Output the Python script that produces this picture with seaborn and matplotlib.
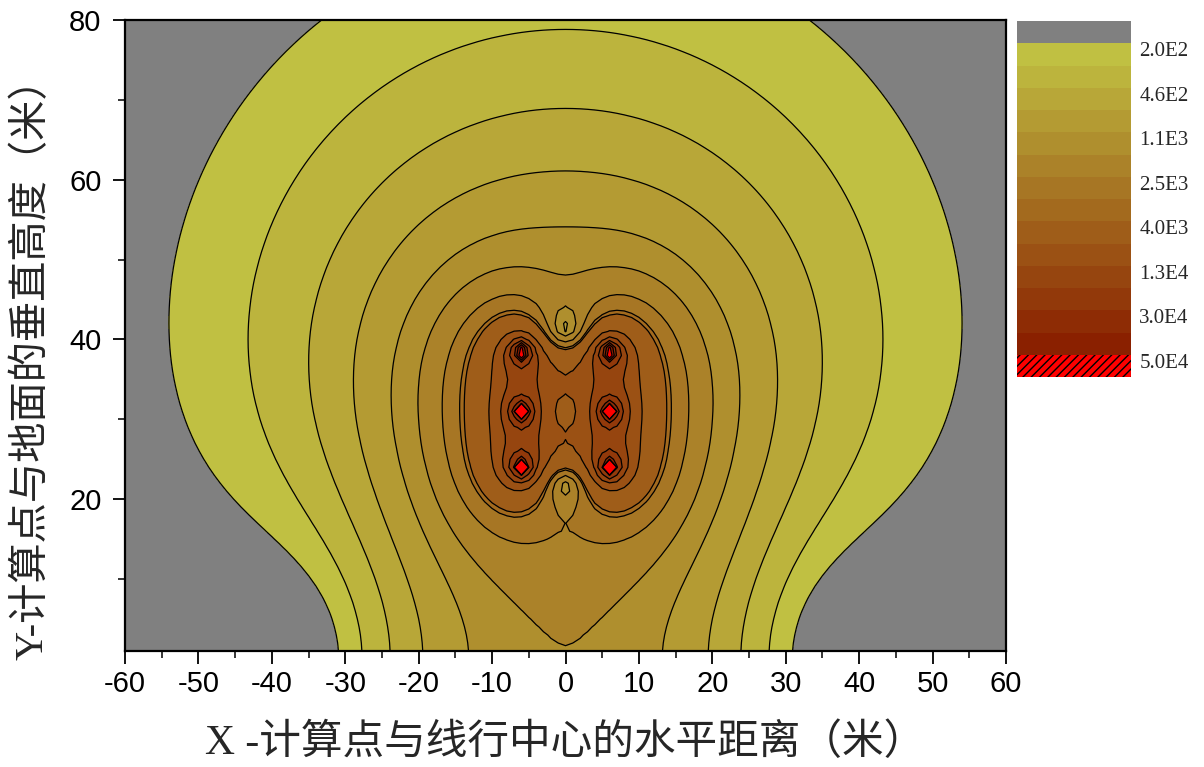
import numpy as np
import matplotlib
matplotlib.use("Agg")
import matplotlib.pyplot as plt
from matplotlib.colors import ListedColormap, BoundaryNorm
from matplotlib.patches import Rectangle
import seaborn as sns

# ---------------- data ----------------
# conductor positions (m) and phase angles (deg) of the double-circuit line
cond_x = [-6, -6, -6, 6, 6, 6]
cond_y = [38.5, 31, 24, 38.5, 31, 24]
cond_phase = [0, -120, 120, 0, -120, 120]
phase_voltage = 525e3 / np.sqrt(3)   # V
bundle_radius = 0.204                # m
field_scale = 0.4

# calculation grid (m)
grid_x = np.arange(-60, 60.01, 1.0)
grid_y = np.arange(1, 80.01, 1.0)

# contour levels (colour-bar boundaries) and labels
levels = [200, 300, 460, 700, 1100, 1630, 2500, 3600, 4000, 8000,
          13000, 20000, 30000, 40000, 50000]
level_labels = ["2.0E2", "4.6E2", "1.1E3", "2.5E3", "4.0E3", "1.3E4", "3.0E4", "5.0E4"]

band_colors = ["#C0C042", "#BCB43D", "#B8A738", "#B49B33", "#AF8F2E", "#AB8229",
               "#A77624", "#A36A1E", "#9F5D19", "#9B5114", "#96450F", "#92390A",
               "#8E2C05", "#8A2000"]
under_color = "#808080"
over_color = "#FF0000"

x_label = "X -计算点与线行中心的水平距离（米）"
y_label = "Y-计算点与地面的垂直高度（米）"

# ---------------- field (line charges + ground images) ----------------
cx = np.array(cond_x, float)
cy = np.array(cond_y, float)
n = len(cx)
P = np.zeros((n, n))
for i in range(n):
    for j in range(n):
        if i == j:
            P[i, j] = np.log(2 * cy[i] / bundle_radius)
        else:
            d = np.hypot(cx[i] - cx[j], cy[i] - cy[j])
            dp = np.hypot(cx[i] - cx[j], cy[i] + cy[j])
            P[i, j] = np.log(dp / d)
Vc = phase_voltage * np.exp(1j * np.deg2rad(np.array(cond_phase, float)))
q = np.linalg.solve(P, Vc)

X, Y = np.meshgrid(grid_x, grid_y)
Ex = np.zeros(X.shape, complex)
Ey = np.zeros(X.shape, complex)
on_conductor = np.zeros(X.shape, bool)
for i in range(n):
    dx = X - cx[i]
    dy = Y - cy[i]
    dyi = Y + cy[i]
    d2 = dx ** 2 + dy ** 2
    on_conductor |= d2 < 1e-6
    d2 = np.maximum(d2, 1e-6)
    di2 = dx ** 2 + dyi ** 2
    Ex += q[i] * (dx / d2 - dx / di2)
    Ey += q[i] * (dy / d2 - dyi / di2)
E = field_scale * np.sqrt(np.abs(Ex) ** 2 + np.abs(Ey) ** 2)
E[on_conductor] = 1e6
E = np.minimum(E, 1e6)

# ---------------- plot ----------------
sns.set_style("ticks")
plt.rcParams["font.family"] = ["Liberation Sans", "Noto Sans CJK SC"]
plt.rcParams["axes.unicode_minus"] = False
plt.rcParams["hatch.color"] = "black"
plt.rcParams["hatch.linewidth"] = 1.0

fig = plt.figure(figsize=(12.04, 7.67), dpi=100)
ax = fig.add_axes([125 / 1204, 1 - 651 / 767, 881 / 1204, 631 / 767])

cmap = ListedColormap(band_colors)
cmap.set_under(under_color)
cmap.set_over(over_color)
norm = BoundaryNorm(levels, cmap.N)

ax.contourf(X, Y, E, levels=levels, cmap=cmap, norm=norm, extend="both")
ax.contour(X, Y, E, levels=levels, colors="black", linewidths=0.9)

ax.set_xlim(-60, 60)
ax.set_ylim(1, 80)
ax.set_xticks(np.arange(-60, 61, 10))
ax.set_xticks(np.arange(-55, 60, 10), minor=True)
ax.set_yticks([20, 40, 60, 80])
ax.set_yticks([10, 30, 50, 70], minor=True)
ax.tick_params(axis="both", which="major", direction="out", length=9, width=1.3,
               labelsize=21, colors="black")
ax.tick_params(axis="x", which="major", pad=5)
ax.tick_params(axis="y", which="major", pad=8)
ax.tick_params(axis="both", which="minor", direction="out", length=5, width=1.3)
for s in ax.spines.values():
    s.set_linewidth(1.6)
    s.set_color("black")

lab_font = ["Liberation Serif", "Noto Sans CJK SC"]
ax.set_xlabel(x_label, fontsize=30, family=lab_font, labelpad=18)
ax.set_ylabel(y_label, fontsize=29, family=lab_font)
ax.yaxis.set_label_coords(-0.083, 0.462)

# colour bar (low at top, high at bottom)
cax = fig.add_axes([1017 / 1204, 1 - 377 / 767, 114 / 1204, 356 / 767])
bar_colors = [under_color] + band_colors + [over_color]
bands = np.arange(len(bar_colors)).reshape(-1, 1)
sns.heatmap(bands, cmap=ListedColormap(bar_colors), cbar=False, ax=cax,
            xticklabels=False, yticklabels=False)
cax.add_patch(Rectangle((0, len(bar_colors) - 1), 1, 1, fill=False,
                        hatch="////", edgecolor="black", linewidth=0))
cax.yaxis.tick_right()
cax.set_yticks(np.arange(1, len(bar_colors), 2) + 0.27)
cax.set_yticklabels(level_labels, fontsize=15, family="Liberation Serif", rotation=0)
cax.tick_params(axis="y", length=0, pad=6)
cax.tick_params(axis="x", length=0)

fig.savefig("out.png", dpi=100)
